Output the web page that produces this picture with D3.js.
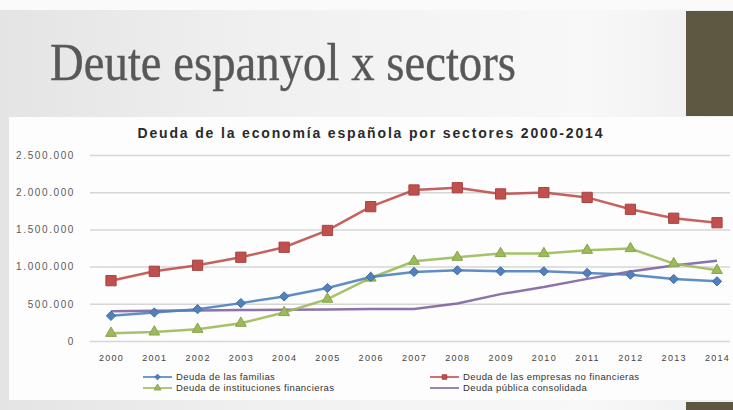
<!DOCTYPE html>
<html>
<head>
<meta charset="utf-8">
<script src="https://cdn.jsdelivr.net/npm/d3@7"></script>
<style>
  html, body { margin: 0; padding: 0; background: #f2f2f2; }
  svg { display: block; }
</style>
</head>
<body>
<svg id="chart" width="733" height="410"></svg>
<script>
// ---- Data ----
const years = [2000, 2001, 2002, 2003, 2004, 2005, 2006, 2007, 2008, 2009, 2010, 2011, 2012, 2013, 2014];
const familias      = [338000, 383000, 428000, 509000, 599000, 712000, 860000, 928000, 950000, 937000, 937000, 914000, 892000, 833000, 802000];
const empresas      = [811000, 937000, 1018000, 1126000, 1260000, 1486000, 1806000, 2030000, 2060000, 1977000, 1995000, 1930000, 1770000, 1650000, 1590000];
const instituciones = [104000, 122000, 158000, 239000, 383000, 563000, 847000, 1072000, 1126000, 1176000, 1176000, 1220000, 1243000, 1040000, 950000];
const publica       = [400000, 405000, 410000, 415000, 420000, 425000, 430000, 430000, 505000, 630000, 725000, 835000, 935000, 1015000, 1080000];
const yTicks = [0, 500000, 1000000, 1500000, 2000000, 2500000];
const seriesNames = ["Deuda de las familias", "Deuda de las empresas no financieras", "Deuda de instituciones financieras", "Deuda pública consolidada"];
const slideTitle = "Deute espanyol x sectors";
const chartTitle = "Deuda de la economía española por sectores  2000-2014";

const series = [
  { name: seriesNames[0], values: familias, color: "#4f81bd", marker: "diamond" },
  { name: seriesNames[1], values: empresas, color: "#c0504d", marker: "square" },
  { name: seriesNames[2], values: instituciones, color: "#9bbb59", marker: "triangle" },
  { name: seriesNames[3], values: publica, color: "#8064a2", marker: null }
];

const svg = d3.select("#chart");
const W = 733, H = 410;

// ---- Slide background ----
const defs = svg.append("defs");
const g1 = defs.append("linearGradient").attr("id", "topbg").attr("x1", "0").attr("x2", "1").attr("y1", "0").attr("y2", "0");
g1.append("stop").attr("offset", "0").attr("stop-color", "#e4e4e4");
g1.append("stop").attr("offset", "0.35").attr("stop-color", "#f0f0f0");
g1.append("stop").attr("offset", "0.8").attr("stop-color", "#f8f8f8");
g1.append("stop").attr("offset", "1").attr("stop-color", "#eeeeee");
svg.append("rect").attr("x", 0).attr("y", 0).attr("width", W).attr("height", H).attr("fill", "url(#topbg)");
svg.append("rect").attr("x", 0).attr("y", 0).attr("width", W).attr("height", 10).attr("fill", "#fafafa");

// olive boxes
svg.append("rect").attr("x", 686).attr("y", 11).attr("width", 47).attr("height", 105).attr("fill", "#5e5741");
svg.append("rect").attr("x", 686).attr("y", 402).attr("width", 47).attr("height", 8).attr("fill", "#5e5741");

// slide title
svg.append("text")
  .attr("x", 50).attr("y", 80)
  .attr("font-family", "'Liberation Serif', 'DejaVu Serif', serif")
  .attr("font-size", 52)
  .attr("fill", "#585858")
  .attr("stroke", "#585858").attr("stroke-width", 0.4)
  .attr("textLength", 466)
  .attr("lengthAdjust", "spacingAndGlyphs")
  .text(slideTitle);

// chart panel
svg.append("rect").attr("x", 9).attr("y", 117).attr("width", W - 9).attr("height", 283).attr("fill", "#fdfdfd");

// ---- Scales ----
const x = d3.scalePoint().domain(years).range([111, 717]);
const y = d3.scaleLinear().domain([0, 2500000]).range([341, 155]);
const loc = d3.formatLocale({ decimal: ",", thousands: ".", grouping: [3], currency: ["", "€"] });
const fmt = loc.format(",d");

// chart title
svg.append("text")
  .attr("x", 370).attr("y", 138)
  .attr("text-anchor", "middle")
  .attr("font-family", "'Liberation Sans', Arial, sans-serif")
  .attr("font-weight", "bold")
  .attr("font-size", 14)
  .attr("fill", "#2a2a2a")
  .attr("textLength", 465)
  .attr("lengthAdjust", "spacing")
  .text(chartTitle);

// Y axis + gridlines
const yAxis = d3.axisLeft(y).tickValues(yTicks).tickFormat(fmt).tickSize(-(730 - 90)).tickPadding(15);
const yg = svg.append("g").attr("transform", "translate(90,0)").call(yAxis);
yg.select(".domain").remove();
yg.selectAll(".tick line").attr("stroke", "#d6d6d6").attr("stroke-width", 1.5);
yg.selectAll(".tick text")
  .attr("font-family", "'Liberation Sans', Arial, sans-serif")
  .attr("font-size", 10)
  .attr("letter-spacing", 1.6)
  .attr("fill", "#5a5a5a");

// X axis
const xAxis = d3.axisBottom(x).tickSize(0).tickPadding(14);
const xg = svg.append("g").attr("transform", "translate(0,341)").call(xAxis);
xg.select(".domain").remove();
xg.selectAll(".tick text")
  .attr("font-family", "'Liberation Sans', Arial, sans-serif")
  .attr("font-size", 9)
  .attr("letter-spacing", 1.3)
  .attr("fill", "#444");

// ---- Lines ----
const line = d3.line().x((d, i) => x(years[i])).y(d => y(d));
const plot = svg.append("g");

function drawMarker(sel, type, color, size) {
  if (!type) return;
  const sym = type === "diamond" ? d3.symbolDiamond2 : type === "square" ? d3.symbolSquare : d3.symbolTriangle;
  sel.append("path")
    .attr("d", d3.symbol().type(sym).size(size)())
    .attr("fill", color)
    .attr("stroke", d3.color(color).darker(0.4))
    .attr("stroke-width", 1);
}

// draw order: purple, green, blue, red
[3, 2, 0, 1].forEach(k => {
  const s = series[k];
  plot.append("path")
    .datum(s.values)
    .attr("d", line)
    .attr("fill", "none")
    .attr("stroke", s.color)
    .attr("stroke-width", 2.5)
    .attr("stroke-opacity", 0.9);
});
[2, 0, 1].forEach(k => {
  const s = series[k];
  const size = s.marker === "square" ? 105 : s.marker === "diamond" ? 55 : 50;
  plot.selectAll(null)
    .data(s.values)
    .enter().append("g")
    .attr("transform", (d, i) => `translate(${x(years[i])},${y(d)})`)
    .each(function () { drawMarker(d3.select(this), s.marker, s.color, size); });
});

// ---- Legend ----
const legendPos = [
  { x: 143, y: 377 }, { x: 430, y: 377 },
  { x: 143, y: 388 }, { x: 430, y: 388 }
];
series.forEach((s, i) => {
  const p = legendPos[i];
  const lg = svg.append("g").attr("transform", `translate(${p.x},${p.y})`);
  lg.append("line").attr("x1", 0).attr("x2", 29).attr("y1", 0).attr("y2", 0)
    .attr("stroke", s.color).attr("stroke-width", 1.6);
  const m = lg.append("g").attr("transform", "translate(14.5,0)");
  drawMarker(m, s.marker, s.color, 20);
  lg.append("text")
    .attr("x", 33).attr("y", 0).attr("dy", "0.35em")
    .attr("font-family", "'Liberation Sans', Arial, sans-serif")
    .attr("font-size", 9.5)
    .attr("letter-spacing", 0.4)
    .attr("fill", "#333")
    .text(s.name);
});
</script>
</body>
</html>
